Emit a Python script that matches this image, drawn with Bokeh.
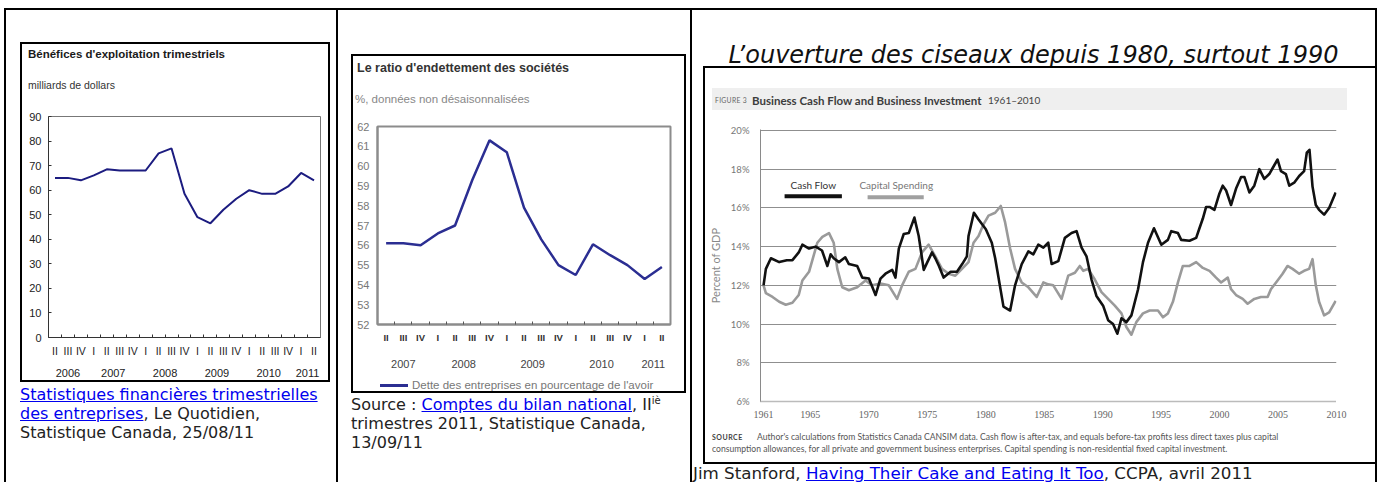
from bokeh.plotting import figure
from bokeh.models import Range1d, FixedTicker, LinearAxis, Grid, Spacer, Div
from bokeh.layouts import row, column
from bokeh.core.properties import value
from bokeh.embed import file_html
from bokeh.resources import INLINE

# ---------------- data ----------------
# Panel 1 : Bénéfices d'exploitation trimestriels (milliards de dollars)
quarters_1 = ["II", "III", "IV", "I", "II", "III", "IV", "I", "II", "III", "IV",
              "I", "II", "III", "IV", "I", "II", "III", "IV", "I", "II"]
quarter_years_1 = [2006] * 3 + [2007] * 4 + [2008] * 4 + [2009] * 4 + [2010] * 4 + [2011] * 2
profits_1 = [65, 65, 64, 66, 68.5, 68, 68, 68, 75, 77, 58.5,
             49, 46.5, 52, 56.5, 60, 58.5, 58.5, 61.5, 67, 64]
y_ticks_1 = [0, 10, 20, 30, 40, 50, 60, 70, 80, 90]

# Panel 2 : Le ratio d'endettement des sociétés (%)
quarters_2 = ["II", "III", "IV", "I", "II", "III", "IV", "I", "II", "III", "IV",
              "I", "II", "III", "IV", "I", "II"]
quarter_years_2 = [2007] * 3 + [2008] * 4 + [2009] * 4 + [2010] * 4 + [2011] * 2
debt_ratio_2 = [56.1, 56.1, 56.0, 56.6, 57.0, 59.3, 61.3, 60.7, 57.9, 56.3, 55.0,
                54.5, 56.05, 55.5, 55.0, 54.3, 54.9]
y_ticks_2 = [52, 53, 54, 55, 56, 57, 58, 59, 60, 61, 62]

# Panel 3 : Business Cash Flow and Business Investment 1961-2010 (% of GDP)
cf_years = [1961.0, 1961.2, 1961.63, 1962.34, 1962.99,
            1963.47, 1964.01, 1964.32, 1964.89, 1965.46,
            1966.0, 1966.46, 1966.74, 1967.0, 1967.45,
            1967.99, 1968.3, 1969.01, 1969.44, 1970.01,
            1970.58, 1971.0, 1971.43, 1972.0, 1972.28,
            1972.57, 1972.99, 1973.42, 1973.9, 1974.27,
            1974.7, 1975.01, 1975.41, 1975.69, 1976.0,
            1976.4, 1977.0, 1977.54, 1977.99, 1978.39,
            1978.53, 1978.99, 1979.39, 1980.01, 1980.52,
            1980.81, 1981.01, 1981.52, 1982.09, 1982.51,
            1983.08, 1983.65, 1984.07, 1984.5, 1984.93,
            1985.35, 1985.64, 1986.21, 1986.77, 1987.34,
            1987.77, 1988.2, 1988.62, 1989.05, 1989.47,
            1990.04, 1990.47, 1990.89, 1991.26, 1991.61,
            1992.03, 1992.46, 1993.03, 1993.45, 1993.88,
            1994.39, 1995.02, 1995.58, 1995.87, 1996.44,
            1996.72, 1997.43, 1998.0, 1998.28, 1998.57,
            1998.85, 1999.14, 1999.56, 1999.99, 2000.27,
            2000.56, 2000.98, 2001.41, 2001.84, 2002.12,
            2002.55, 2002.97, 2003.4, 2003.82, 2004.25,
            2004.96, 2005.25, 2005.67, 2005.96, 2006.38,
            2006.81, 2007.23, 2007.46, 2007.69, 2007.95,
            2008.23, 2008.51, 2008.94, 2009.37, 2009.93]
cf_vals = [12.0, 12.85, 13.4, 13.2, 13.3,
           13.3, 13.7, 14.1, 13.9, 14.0,
           13.8, 13.0, 13.6, 13.4, 13.2,
           13.45, 13.1, 13.0, 12.4, 12.35,
           11.5, 12.35, 12.6, 12.8, 12.4,
           13.9, 14.65, 14.7, 15.5, 14.55,
           12.8, 13.2, 13.7, 13.4, 13.0,
           12.4, 12.7, 12.7, 13.1, 13.5,
           14.55, 15.75, 15.4, 14.9, 14.2,
           13.4, 12.7, 10.9, 10.7, 12.0,
           13.1, 13.75, 13.6, 14.1, 13.95,
           14.2, 13.1, 13.25, 14.45, 14.7,
           14.8, 13.95, 13.5, 12.3, 11.45,
           10.95, 10.2, 10.0, 9.5, 10.3,
           10.1, 10.45, 11.8, 13.2, 14.2,
           14.95, 14.1, 14.35, 14.8, 14.7,
           14.35, 14.3, 14.45, 14.95, 15.45,
           16.05, 16.05, 15.9, 16.75, 17.15,
           16.9, 16.15, 17.0, 17.6, 17.6,
           16.8, 17.15, 18.0, 17.5, 17.75,
           18.5, 17.9, 17.75, 17.15, 17.3,
           17.65, 17.9, 18.85, 19.0, 17.1,
           16.15, 15.9, 15.65, 16.0, 16.8]
cs_years = [1961.0, 1961.2, 1961.77, 1962.34, 1962.9,
            1963.47, 1964.01, 1964.32, 1964.89, 1965.6,
            1966.03, 1966.6, 1967.0, 1967.31, 1967.73,
            1968.3, 1969.01, 1969.72, 1970.29, 1971.0,
            1971.71, 1972.42, 1972.85, 1973.42, 1973.99,
            1974.55, 1975.12, 1975.69, 1976.26, 1976.83,
            1977.4, 1977.97, 1978.53, 1978.96, 1979.39,
            1979.81, 1980.24, 1980.81, 1981.29, 1981.66,
            1982.09, 1982.51, 1983.08, 1983.65, 1984.36,
            1984.93, 1985.35, 1985.78, 1986.49, 1987.06,
            1987.63, 1988.05, 1988.34, 1988.76, 1989.33,
            1989.9, 1990.47, 1991.04, 1991.61, 1992.03,
            1992.46, 1992.88, 1993.45, 1994.02, 1994.73,
            1995.16, 1995.58, 1996.01, 1996.44, 1996.86,
            1997.43, 1998.0, 1998.57, 1999.14, 1999.7,
            2000.13, 2000.7, 2000.98, 2001.41, 2001.98,
            2002.4, 2002.97, 2003.54, 2004.11, 2004.39,
            2004.96, 2005.39, 2005.81, 2006.24, 2006.81,
            2007.23, 2007.66, 2007.95, 2008.23, 2008.51,
            2008.94, 2009.37, 2009.93]
cs_vals = [12.0, 11.6, 11.4, 11.15, 11.0,
           11.1, 11.5, 12.25, 12.7, 14.2,
           14.5, 14.7, 14.2, 12.85, 11.9,
           11.75, 11.9, 12.25, 12.0, 12.1,
           12.0, 11.3, 12.0, 12.7, 12.85,
           13.7, 14.1, 13.5, 12.85, 12.6,
           12.5, 12.85, 13.2, 14.2, 14.55,
           15.15, 15.6, 15.75, 16.1, 15.25,
           13.9, 12.85, 12.15, 11.9, 11.4,
           12.15, 12.05, 12.0, 11.3, 12.5,
           12.65, 13.0, 12.75, 12.85, 12.3,
           11.65, 11.3, 10.95, 10.55, 9.85,
           9.45, 10.1, 10.55, 10.7, 10.7,
           10.35, 10.55, 11.15, 12.15, 13.0,
           13.0, 13.2, 12.9, 12.75, 12.4,
           12.15, 12.4, 11.8, 11.5, 11.3,
           11.05, 11.3, 11.4, 11.4, 11.8,
           12.25, 12.6, 13.0, 12.85, 12.6,
           12.75, 12.85, 13.35, 12.0, 11.15,
           10.45, 10.6, 11.2]
year_ticks_3 = [1961, 1965, 1970, 1975, 1980, 1985, 1990, 1995, 2000, 2005, 2010]
pct_ticks_3 = [6, 8, 10, 12, 14, 16, 18, 20]

# ---------------- helpers ----------------
ARIAL = "Liberation Sans"
VERD = "DejaVu Sans"
MYR = "Lato"
SERIF = "Liberation Serif"


def bar(w, h):
    return Spacer(width=w, height=h, margin=0, styles={"background-color": "#000"})


def gap(w, h):
    return Spacer(width=w, height=h, margin=0)


def span(x, y, s, size, color, font, weight="normal", style="normal", lh=None, extra=""):
    lh = lh or round(size * 1.3)
    return (f'<span style="position:absolute; left:{x}px; top:{y - lh / 2:.1f}px; '
            f'line-height:{lh}px; font-family:\'{font}\'; font-size:{size}px; color:{color}; '
            f'font-weight:{weight}; font-style:{style}; white-space:nowrap; {extra}">{s}</span>')


def rect(x, y, w, h, color):
    return (f'<div style="position:absolute; left:{x}px; top:{y}px; width:{w}px; '
            f'height:{h}px; background:{color};"></div>')


def pos_div(w, h, items):
    html = (f'<div style="position:relative; width:{w}px; height:{h}px; overflow:hidden; '
            f'background:white;">' + "".join(items) + "</div>")
    return Div(text=html, width=w, height=h, margin=0)


def quarter_axes(p, quarters, qyears, line_color, line_width, tick_color,
                 qsize, qstyle, qcolor, qstand, ysize, ycolor, ystand):
    n = len(quarters)
    centers = list(range(n))
    bounds = [i + 0.5 for i in range(n - 1)]
    qax = LinearAxis(ticker=FixedTicker(ticks=centers, minor_ticks=bounds),
                     major_label_overrides={i: q for i, q in enumerate(quarters)})
    qax.axis_line_color = line_color
    qax.axis_line_width = line_width
    qax.major_tick_in = 0
    qax.major_tick_out = 0
    qax.minor_tick_in = 3
    qax.minor_tick_out = 0
    qax.minor_tick_line_color = tick_color
    qax.major_label_standoff = qstand
    qax.major_label_text_font = ARIAL
    qax.major_label_text_font_size = f"{qsize}px"
    qax.major_label_text_font_style = qstyle
    qax.major_label_text_color = qcolor
    p.add_layout(qax, "below")
    years = sorted(set(qyears))
    ypos = [sum(i for i, y in enumerate(qyears) if y == yr) / qyears.count(yr) for yr in years]
    yax = LinearAxis(ticker=FixedTicker(ticks=ypos),
                     major_label_overrides={pos: str(yr) for pos, yr in zip(ypos, years)})
    yax.axis_line_color = None
    yax.major_tick_line_color = None
    yax.minor_tick_line_color = None
    yax.major_label_standoff = ystand
    yax.major_label_text_font = ARIAL
    yax.major_label_text_font_size = f"{ysize}px"
    yax.major_label_text_color = ycolor
    p.add_layout(yax, "below")


CAP_STYLE = ("font-family:'DejaVu Sans'; font-size:16px; line-height:19px; "
             "color:#222; white-space:nowrap;")
LINK = "color:#0000ee; text-decoration:underline;"

# ---------------- panel 1 ----------------
hdr1 = pos_div(306, 61, [
    span(6, 10, "Bénéfices d'exploitation trimestriels", 11.5, "#1a1a1a", ARIAL, weight="bold"),
    span(6, 41, "milliards de dollars", 10.5, "#333", ARIAL),
])

n1 = len(profits_1)
p1 = figure(width=306, height=275, x_range=Range1d(-0.5, n1 - 0.5), y_range=Range1d(0, 90),
            x_axis_type=None, y_axis_type=None, min_border_left=26, min_border_right=8,
            min_border_top=11, min_border_bottom=43, toolbar_location=None,
            output_backend="svg", title=None)
p1.outline_line_color = "#777"
p1.border_fill_color = "white"
ya1 = LinearAxis(ticker=FixedTicker(ticks=y_ticks_1))
ya1.axis_line_color = "#333"
ya1.major_tick_in = 3
ya1.major_tick_out = 0
ya1.major_tick_line_color = "#333"
ya1.major_label_standoff = 7
ya1.major_label_text_font = ARIAL
ya1.major_label_text_font_size = "11px"
ya1.major_label_text_color = "#222"
p1.add_layout(ya1, "left")
quarter_axes(p1, quarters_1, quarter_years_1, "#333", 1, "#333",
             10.5, "normal", "#222", 7, 11, "#222", 3)
p1.line(list(range(n1)), profits_1, line_color="#1c1c80", line_width=2)

box1 = column(bar(310, 2),
              row(bar(2, 336), column(hdr1, p1), bar(2, 336)),
              bar(310, 2))
cap1 = Div(text=f'<div style="{CAP_STYLE} padding-top:3px;">'
                f'<a href="#" style="{LINK}">Statistiques financières trimestrielles<br>'
                f'des entreprises</a>, Le Quotidien,<br>Statistique Canada, 25/08/11</div>',
           width=316, height=100, margin=0)
cell1 = column(gap(330, 32),
               row(gap(14, 340), box1, gap(6, 340)),
               row(gap(14, 100), cap1))

# ---------------- panel 2 ----------------
hdr2 = pos_div(331, 59, [
    span(4, 12, "Le ratio d'endettement des sociétés", 12.5, "#333", ARIAL, weight="bold"),
    span(2, 43, "%, données non désaisonnalisées", 11.5, "#888", ARIAL),
])

n2 = len(debt_ratio_2)
p2 = figure(width=331, height=260, x_range=Range1d(-0.5, n2 - 0.5), y_range=Range1d(52, 62),
            x_axis_type=None, y_axis_type=None, min_border_left=24, min_border_right=14,
            min_border_top=11, min_border_bottom=51, toolbar_location=None,
            output_backend="svg", title=None)
p2.outline_line_color = "#8c8c8c"
p2.outline_line_width = 2
p2.border_fill_color = "white"
ya2 = LinearAxis(ticker=FixedTicker(ticks=y_ticks_2))
ya2.axis_line_color = "#8c8c8c"
ya2.axis_line_width = 2
ya2.major_tick_in = 0
ya2.major_tick_out = 0
ya2.major_label_standoff = 8
ya2.major_label_text_font = ARIAL
ya2.major_label_text_font_size = "11px"
ya2.major_label_text_color = "#777"
p2.add_layout(ya2, "left")
quarter_axes(p2, quarters_2, quarter_years_2, "#8c8c8c", 2, "#555",
             9.5, "bold", "#333", 7, 11, "#444", 8)
p2.line(list(range(n2)), debt_ratio_2, line_color="#2b2e92", line_width=2.5)

ftr2 = pos_div(331, 16, [
    rect(27, 9, 28, 2.5, "#2b2e92"),
    span(59, 10, "Dette des entreprises en pourcentage de l'avoir", 11.5, "#777", ARIAL),
])

box2 = column(bar(335, 2),
              row(bar(2, 335), column(hdr2, p2, ftr2), bar(2, 335)),
              bar(335, 2))
cap2 = Div(text=f'<div style="{CAP_STYLE} padding-top:2px;">Source : '
                f'<a href="#" style="{LINK}">Comptes du bilan national</a>, II'
                f'<sup style="font-size:10px; line-height:0;">iè</sup><br>'
                f'trimestres 2011, Statistique Canada,<br>13/09/11</div>',
           width=339, height=89, margin=0)
cell2 = column(gap(352, 44),
               row(gap(13, 339), box2, gap(4, 339)),
               row(gap(13, 89), cap2))

# ---------------- panel 3 ----------------
ttl3 = Div(text=('<div style="width:683px; height:56px; position:relative;">'
                 '<div style="position:absolute; left:0; top:31px; width:683px; '
                 'text-align:center; line-height:28px; font-family:\'DejaVu Sans\'; '
                 'font-size:24px; font-style:italic; color:#111; white-space:nowrap;">'
                 'L’ouverture des ciseaux depuis 1980, surtout 1990</div></div>'),
           width=683, height=56, margin=0)

hdr3 = pos_div(670, 52, [
    rect(7, 20, 635, 22, "#efefef"),
    span(10, 32, "FIGURE 3", 6.8, "#666", MYR, extra="letter-spacing:0.3px;"),
    span(47, 32, "Business Cash Flow and Business Investment", 11.5, "#3d3d3d", MYR,
         weight="bold"),
    span(283, 32, "1961–2010", 10, "#444", MYR),
])

p3 = figure(width=670, height=300, x_range=Range1d(1960.74, 2010.0), y_range=Range1d(6, 20.05),
            x_axis_type=None, y_axis_type=None, min_border_left=53, min_border_right=39,
            min_border_top=9, min_border_bottom=17, toolbar_location=None,
            output_backend="svg", title=None)
p3.outline_line_color = None
p3.border_fill_color = "white"
ya3 = LinearAxis(ticker=FixedTicker(ticks=pct_ticks_3),
                 major_label_overrides={v: f"{v}%" for v in pct_ticks_3},
                 axis_label="Percent of GDP")
ya3.axis_line_color = "#8a8a8a"
ya3.major_tick_line_color = None
ya3.major_label_standoff = 5
ya3.major_label_text_font = MYR
ya3.major_label_text_font_size = "9.5px"
ya3.major_label_text_color = "#777"
ya3.axis_label_text_font = MYR
ya3.axis_label_text_font_size = "11px"
ya3.axis_label_text_font_style = "normal"
ya3.axis_label_text_color = "#888"
ya3.axis_label_standoff = 6
p3.add_layout(ya3, "left")
xa3 = LinearAxis(ticker=FixedTicker(ticks=year_ticks_3))
xa3.axis_line_color = "#777"
xa3.axis_line_dash = "1 1"
xa3.axis_line_width = 1.5
xa3.major_tick_line_color = None
xa3.major_label_standoff = 3
xa3.major_label_text_font = SERIF
xa3.major_label_text_font_size = "10px"
xa3.major_label_text_color = "#666"
p3.add_layout(xa3, "below")
p3.add_layout(Grid(dimension=1, ticker=FixedTicker(ticks=pct_ticks_3[1:]),
                   grid_line_color="#8f8f8f", grid_line_width=1))
p3.line(cs_years, cs_vals, line_color="#9a9a9a", line_width=2.6, line_join="round")
p3.line(cf_years, cf_vals, line_color="#111111", line_width=2.6, line_join="round")
# legend (text above a line sample, as in the original figure)
p3.segment(x0=[1962.8], y0=[16.6], x1=[1967.7], y1=[16.6], line_color="#111111", line_width=4)
p3.segment(x0=[1969.9], y0=[16.55], x1=[1974.7], y1=[16.55], line_color="#a0a0a0", line_width=4)
p3.text(x=[1965.25], y=[17.2], text=["Cash Flow"], text_font=value(MYR), text_font_size="10px",
        text_color="#333", text_align="center", text_baseline="middle")
p3.text(x=[1972.35], y=[17.2], text=["Capital Spending"], text_font=value(MYR),
        text_font_size="10px", text_color="#777", text_align="center", text_baseline="middle")

src3 = pos_div(670, 42, [
    span(7, 17, "SOURCE", 7, "#444", MYR, weight="bold", extra="letter-spacing:0.5px;"),
    span(52, 17, "Author's calculations from Statistics Canada CANSIM data. Cash flow is "
                 "after-tax, and equals before-tax profits less direct taxes plus capital",
         8.6, "#555", MYR),
    span(7, 29, "consumption allowances, for all private and government business enterprises. "
                "Capital spending is non-residential fixed capital investment.",
         8.6, "#555", MYR),
])

box3 = row(gap(11, 398),
           column(bar(672, 2),
                  row(bar(2, 394), column(hdr3, p3, src3)),
                  bar(672, 2)))
cap3 = Div(text=(f'<div style="{CAP_STYLE} font-size:16.7px; padding-left:1px;">Jim Stanford, '
                 f'<a href="#" style="{LINK}">Having Their Cake and Eating It Too</a>, '
                 f'CCPA, avril 2011</div>'),
           width=683, height=18, margin=0)
cell3 = column(ttl3, box3, cap3)

# ---------------- page ----------------
H = 472
root = column(gap(1378, 8),
              row(gap(4, 2), bar(1373, 2)),
              row(gap(4, H), bar(2, H), cell1, bar(2, H), cell2, bar(2, H), cell3, bar(2, H)))

open("out.html", "w").write(file_html(root, INLINE, title="Graphiques"))
